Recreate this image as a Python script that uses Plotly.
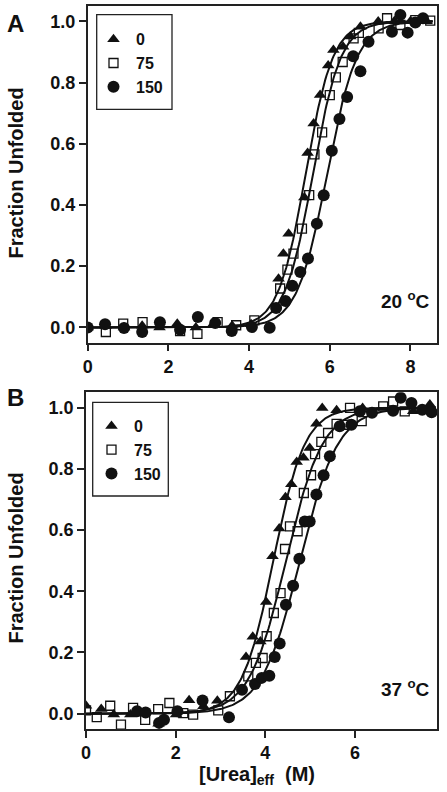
import numpy as np
import plotly.graph_objects as go

# ---------------- Panel A (20 °C) data ----------------
a_tri_x = [0.0, 0.45, 0.9, 1.35, 1.78, 2.22, 2.68, 3.12, 3.58, 4.05, 4.73, 4.85, 4.98, 5.37, 5.45, 5.60, 5.76, 5.96, 6.09, 6.33, 6.51, 6.76, 7.20, 7.60, 8.00, 8.40]
a_tri_y = [0.0, 0.005, 0.0, 0.005, 0.0, 0.012, 0.0, 0.012, 0.005, 0.01, 0.159, 0.241, 0.306, 0.424, 0.570, 0.666, 0.759, 0.856, 0.906, 0.917, 0.950, 0.982, 0.999, 1.0, 1.0, 1.0]

a_sq_x = [0.45, 0.88, 1.36, 2.29, 2.72, 3.22, 3.68, 4.13, 4.77, 4.95, 5.10, 5.31, 5.49, 5.62, 5.81, 6.00, 6.15, 6.32, 6.59, 6.72, 7.21, 7.42, 7.75, 8.12, 8.49]
a_sq_y = [-0.015, 0.012, 0.017, -0.012, -0.021, 0.017, 0.007, 0.023, 0.127, 0.189, 0.241, 0.323, 0.432, 0.565, 0.637, 0.759, 0.817, 0.867, 0.944, 0.962, 0.977, 1.010, 0.988, 1.004, 1.002]

a_ci_x = [0.0, 0.43, 0.90, 1.35, 1.79, 2.29, 2.73, 3.16, 3.57, 4.07, 4.51, 4.67, 4.90, 5.07, 5.27, 5.46, 5.68, 5.85, 6.05, 6.24, 6.43, 6.58, 6.76, 6.96, 7.54, 7.75, 7.93, 8.12, 8.31]
a_ci_y = [0.0, 0.010, -0.002, -0.015, 0.017, -0.008, 0.034, 0.014, -0.012, 0.001, -0.001, 0.063, 0.086, 0.136, 0.181, 0.225, 0.339, 0.432, 0.577, 0.681, 0.753, 0.886, 0.837, 0.933, 0.966, 1.021, 0.963, 0.996, 1.010]

# sigmoid fit parameters (midpoint Cm, steepness k)
a_fit_cm = [5.40, 5.58, 5.93]
a_fit_k = [2.96, 2.88, 2.69]
a_fit_xmax = 8.55

# ---------------- Panel B (37 °C) data ----------------
b_tri_x = [0.0, 0.34, 0.62, 0.99, 1.29, 1.62, 2.01, 2.30, 2.62, 2.93, 3.57, 3.72, 3.89, 4.02, 4.16, 4.31, 4.45, 4.58, 4.70, 4.85, 4.99, 5.14, 5.27, 5.59, 6.17, 7.30, 7.49, 7.67]
b_tri_y = [0.026, 0.015, -0.003, -0.003, 0.004, -0.033, -0.003, 0.044, 0.024, 0.042, 0.185, 0.251, 0.236, 0.365, 0.514, 0.605, 0.707, 0.750, 0.822, 0.836, 0.868, 0.947, 0.999, 0.991, 0.999, 0.988, 0.990, 1.010]

b_sq_x = [0.0, 0.24, 0.54, 0.78, 1.05, 1.32, 1.61, 1.86, 2.17, 2.39, 2.95, 3.21, 3.62, 3.79, 3.94, 4.03, 4.19, 4.34, 4.44, 4.55, 4.72, 4.86, 5.02, 5.11, 5.25, 5.40, 5.59, 5.77, 5.89, 6.15, 6.63, 6.85, 7.11]
b_sq_y = [0.011, -0.011, 0.026, -0.036, 0.019, -0.020, 0.015, 0.035, 0.002, -0.003, 0.011, 0.057, 0.122, 0.166, 0.182, 0.253, 0.329, 0.394, 0.538, 0.612, 0.596, 0.721, 0.779, 0.848, 0.888, 0.917, 0.947, 0.944, 0.999, 0.956, 1.004, 1.020, 0.988]

b_ci_x = [1.14, 1.33, 1.63, 1.74, 2.04, 2.60, 3.19, 3.48, 3.77, 3.92, 4.09, 4.21, 4.32, 4.46, 4.62, 4.76, 4.88, 4.99, 5.14, 5.30, 5.44, 5.66, 5.92, 6.11, 6.38, 6.85, 7.02, 7.26, 7.50, 7.71]
b_ci_y = [0.008, 0.004, -0.030, -0.020, 0.008, 0.043, -0.012, 0.078, 0.097, 0.117, 0.124, 0.185, 0.229, 0.356, 0.418, 0.506, 0.628, 0.628, 0.716, 0.779, 0.841, 0.939, 0.944, 0.988, 0.983, 0.990, 1.032, 1.015, 0.993, 0.985]

b_fit_cm = [4.18, 4.46, 4.77]
b_fit_k = [2.85, 2.45, 2.35]
b_fit_xmax = 7.8

series_names = ["0", "75", "150"]

W, H = 447, 792


def px_x(p):
    return p / W


def px_y(p):
    return 1 - p / H


BLACK = "#111111"
FONT = "Liberation Sans, Arial, sans-serif"

marker_styles = [
    dict(symbol="triangle-up", size=11, color=BLACK, line=dict(width=0)),
    dict(symbol="square-open", size=9, color=BLACK, line=dict(width=1.3, color=BLACK)),
    dict(symbol="circle", size=12, color=BLACK, line=dict(width=0)),
]

fig = go.Figure()


def add_panel(xs, ys, cms, ks, xmax, xa, ya, legend):
    for cm, k in zip(cms, ks):
        xx = np.linspace(0, xmax, 300)
        yy = 1.0 / (1.0 + np.exp(-k * (xx - cm)))
        fig.add_trace(go.Scatter(x=xx, y=yy, mode="lines", line=dict(color=BLACK, width=2),
                                 xaxis=xa, yaxis=ya, showlegend=False, hoverinfo="skip"))
    for (x, y), name, ms in zip(zip(xs, ys), series_names, marker_styles):
        fig.add_trace(go.Scatter(x=x, y=y, mode="markers", name=name, marker=ms,
                                 xaxis=xa, yaxis=ya, legend=legend))


add_panel([a_tri_x, a_sq_x, a_ci_x], [a_tri_y, a_sq_y, a_ci_y], a_fit_cm, a_fit_k, a_fit_xmax, "x", "y", "legend")
add_panel([b_tri_x, b_sq_x, b_ci_x], [b_tri_y, b_sq_y, b_ci_y], b_fit_cm, b_fit_k, b_fit_xmax, "x2", "y2", "legend2")

axis_common = dict(showline=True, mirror=True, linecolor="#222222", linewidth=1.5,
                   ticks="outside", ticklen=7, tickwidth=1.5, tickcolor="#222222",
                   showgrid=False, zeroline=False, automargin=False,
                   tickfont=dict(family=FONT, size=18, color=BLACK, weight="bold"))

leg_font = dict(family=FONT, size=16, color=BLACK, weight="bold")

fig.update_layout(
    template="none",
    width=W, height=H,
    margin=dict(l=0, r=0, t=0, b=0, pad=0),
    paper_bgcolor="white", plot_bgcolor="white",
    font=dict(family=FONT, color=BLACK, weight="bold"),
    xaxis=dict(domain=[px_x(87.7), px_x(436.7)], range=[0, 8.65], tickvals=[0, 2, 4, 6, 8],
               anchor="y", **axis_common),
    yaxis=dict(domain=[px_y(342.7), px_y(6)], range=[-0.05, 1.05], tickvals=[0, 0.2, 0.4, 0.6, 0.8, 1.0],
               tickformat=".1f", anchor="x", **axis_common),
    xaxis2=dict(domain=[px_x(86), px_x(437)], range=[0, 7.83], tickvals=[0, 2, 4, 6],
                anchor="y2", **axis_common),
    yaxis2=dict(domain=[px_y(729), px_y(392.3)], range=[-0.05, 1.05], tickvals=[0, 0.2, 0.4, 0.6, 0.8, 1.0],
                tickformat=".1f", anchor="x2", **axis_common),
    legend=dict(x=px_x(91), y=px_y(63.3), xanchor="left", yanchor="middle",
                bgcolor="rgba(0,0,0,0)", borderwidth=0, font=leg_font, itemwidth=35),
    legend2=dict(x=px_x(89), y=px_y(450), xanchor="left", yanchor="middle",
                 bgcolor="rgba(0,0,0,0)", borderwidth=0, font=leg_font, itemwidth=35),
    showlegend=True,
)

# legend frames
fig.add_shape(type="rect", xref="paper", yref="paper",
              x0=px_x(96.7), x1=px_x(172), y0=px_y(109.3), y1=px_y(14.7),
              line=dict(color="#222222", width=1.3))
fig.add_shape(type="rect", xref="paper", yref="paper",
              x0=px_x(92.7), x1=px_x(168.3), y0=px_y(496), y1=px_y(402.3),
              line=dict(color="#222222", width=1.3))

big = dict(family=FONT, size=24, color=BLACK, weight="bold")
ann_font = dict(family=FONT, size=20, color=BLACK, weight="bold")
temp_font = dict(family=FONT, size=19, color=BLACK, weight="bold")
annotations = [
    dict(text="A", x=px_x(15), y=px_y(24), font=big),
    dict(text="B", x=px_x(15), y=px_y(398), font=big),
    dict(text="Fraction Unfolded", x=px_x(15.5), y=px_y(173), textangle=-90, font=ann_font),
    dict(text="Fraction Unfolded", x=px_x(15.5), y=px_y(558), textangle=-90, font=ann_font),
    dict(text="20 <sup>o</sup>C", x=px_x(405), y=px_y(300), font=temp_font),
    dict(text="37 <sup>o</sup>C", x=px_x(405), y=px_y(688), font=temp_font),
    dict(text="[Urea]<sub>eff</sub>  (M)", x=px_x(257), y=px_y(775), font=ann_font),
]
for a in annotations:
    fig.add_annotation(xref="paper", yref="paper", showarrow=False, xanchor="center", yanchor="middle", **a)

# remove the default page margin so the figure sits at the window's top-left corner
fig.write_html("out.html", config={"displayModeBar": False},
               post_script="document.body.style.margin='0';")
